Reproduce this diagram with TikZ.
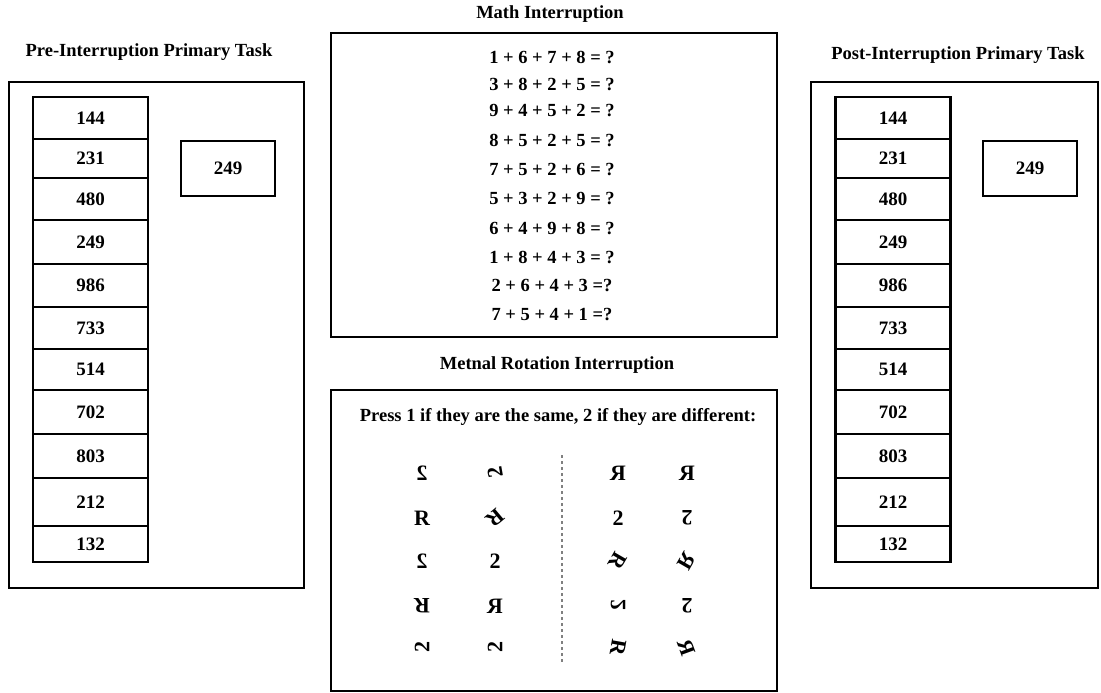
\documentclass[tikz,border=0pt]{standalone}
\usepackage{fontspec}
\setmainfont{Liberation Serif}
\usepackage{graphicx}
\usetikzlibrary{positioning}

\newcommand{\turnglyph}[3]{\rotatebox[origin=c]{#3}{\scalebox{#2}[1]{#1}}}

\begin{document}
\begin{tikzpicture}[x=1pt, y=-1pt, font=\fontsize{19}{22}\selectfont\bfseries,
  frame/.style={draw, line width=2.8pt, inner sep=0pt},
  cell/.style={draw, line width=2.3pt, minimum width=115pt, inner sep=0pt},
  probe/.style={draw, line width=2.5pt, minimum width=94pt, minimum height=55pt, inner sep=0pt},
  title/.style={font=\fontsize{18.5}{21}\selectfont\bfseries},
  sum/.style={font=\fontsize{18.5}{21}\selectfont\bfseries},
  glyphnode/.style={font=\fontsize{22}{24}\selectfont\bfseries},
  divider/.style={draw=gray, dashed, line width=1.2pt}]
  \useasboundingbox[fill=white] (0,0) rectangle (1101,693);
  % frames and titles
  \node[frame, minimum width=295pt, minimum height=506pt] (preframe) at (156.5,335) {};
  \node[frame, minimum width=287pt, minimum height=506pt] (postframe) at (954.5,335) {};
  \node[frame, minimum width=446pt, minimum height=304pt] (mathframe) at (554,185) {};
  \node[frame, minimum width=446pt, minimum height=301pt] (rotframe) at (554,540.5) {};
  \node[title] (pretitle) at (149,52) {Pre-Interruption Primary Task};
  \node[title] (posttitle) at (958,55) {Post-Interruption Primary Task};
  \node[title] (mathtitle) at (550,14) {Math Interruption};
  \node[title] (rottitle) at (557,365) {Metnal Rotation Interruption};
  % number lists
  \foreach \val/\ya/\yb [count=\i] in {144/97/139, 231/139/178, 480/178/220, 249/220/264,
      986/264/307, 733/307/349, 514/349/390, 702/390/434, 803/434/478, 212/478/526, 132/526/562} {
    \node[cell, minimum height={(\yb-\ya)*1pt}] (pre\i) at (90.5,{(\ya+\yb)/2}) {\val};
    \node[cell, minimum height={(\yb-\ya)*1pt}] (post\i) at (893,{(\ya+\yb)/2}) {\val};
  }
  \node[probe] (preprobe) at (228,168.5) {249};
  \node[probe] (postprobe) at (1030,168.5) {249};
  % sums
  \foreach \eq/\ey [count=\j] in {1 + 6 + 7 + 8 = ?/57, 3 + 8 + 2 + 5 = ?/84, 9 + 4 + 5 + 2 = ?/111,
      8 + 5 + 2 + 5 = ?/140, 7 + 5 + 2 + 6 = ?/170, 5 + 3 + 2 + 9 = ?/199, 6 + 4 + 9 + 8 = ?/228,
      1 + 8 + 4 + 3 = ?/257, 2 + 6 + 4 + 3 =?/286, 7 + 5 + 4 + 1 =?/315}
    \node[sum] (sum\j) at (552,\ey) {\eq};
  % rotation task
  \node[sum] (prompt) at (558,417) {Press 1 if they are the same, 2 if they are different:};
  \foreach \ch/\sx/\rot/\gx/\gy [count=\k] in {2/-1/0/422/473, 2/1/100/495/473, R/-1/0/618/473, R/-1/0/687/473,
      R/1/0/422/518, R/1/-140/495/518, 2/1/0/618/518, 2/1/180/687/518,
      2/-1/0/422/561, 2/1/0/495/561, R/1/-120/618/561, R/-1/-120/687/561,
      R/1/180/422/606, R/-1/0/495/606, 2/-1/90/618/606, 2/1/180/687/606,
      2/1/90/422/648, 2/1/90/495/648, R/1/-100/618/648, R/-1/-70/687/648}
    \node[glyphnode] (g\k) at (\gx,\gy) {\turnglyph{\ch}{\sx}{\rot}};
  \coordinate (cuttop) at (562,455);
  \coordinate (cutbot) at (562,663);
  \draw[divider] (cuttop) -- (cutbot);
\end{tikzpicture}
\end{document}
